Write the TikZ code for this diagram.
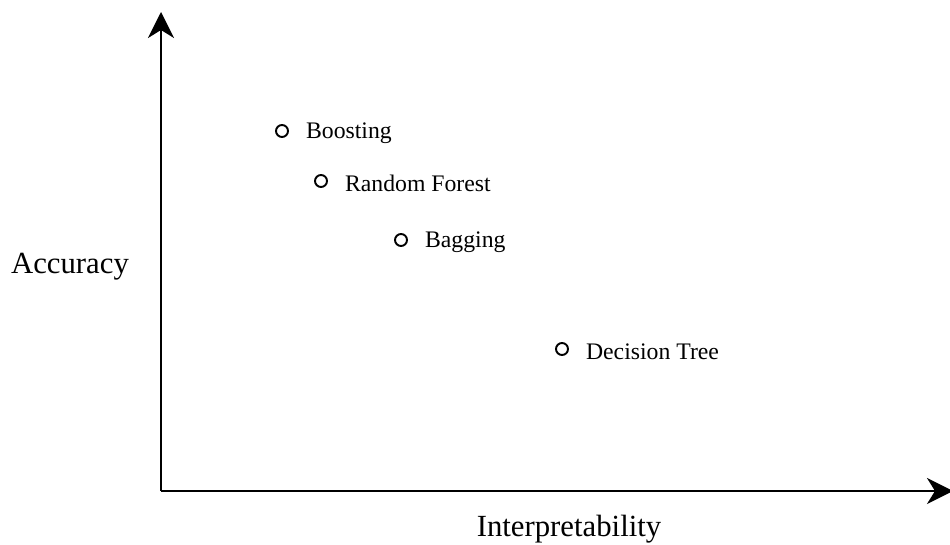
\documentclass[tikz,border=0pt]{standalone}
\usepackage{fontspec}
\setmainfont{Liberation Serif}
\usetikzlibrary{arrows.meta,positioning}

\begin{document}
\begin{tikzpicture}[axis/.style={line width=1.4pt, -{Stealth[length=0.52cm, width=0.52cm, inset=0.16cm]}}]
        \tikzstyle{pt} = [draw, circle, line width=1.1pt, minimum size=0.24cm, inner sep=0pt]
        \tikzstyle{lbl} = [font=\fontsize{13.5}{16}\selectfont, inner sep=1pt, yshift=-0.05cm]
        \tikzstyle{axlbl} = [font=\fontsize{17.5}{21}\selectfont]
        \useasboundingbox (0,0) rectangle (19,10.88);

        \coordinate (origin) at (3.22,1.06);
        \coordinate (ytip) at (3.22,10.64);
        \coordinate (xtip) at (19.06,1.06);
        \draw[axis] (origin) -- (ytip);
        \draw[axis] (origin) -- (xtip);

        \node[axlbl] (acc) at (1.40,5.54) {Accuracy};
        \node[axlbl] (interp) at (11.38,0.30) {Interpretability};

        \node[pt] (boost) at (5.64,8.26) {};
        \node[lbl, right = 0.3cm of boost] (boostl) {Boosting};
        \node[pt] (rf) at (6.42,7.26) {};
        \node[lbl, right = 0.3cm of rf] (rfl) {Random Forest};
        \node[pt] (bag) at (8.02,6.08) {};
        \node[lbl, right = 0.3cm of bag] (bagl) {Bagging};
        \node[pt] (dt) at (11.24,3.90) {};
        \node[lbl, right = 0.3cm of dt] (dtl) {Decision Tree};
        \end{tikzpicture}
\end{document}
